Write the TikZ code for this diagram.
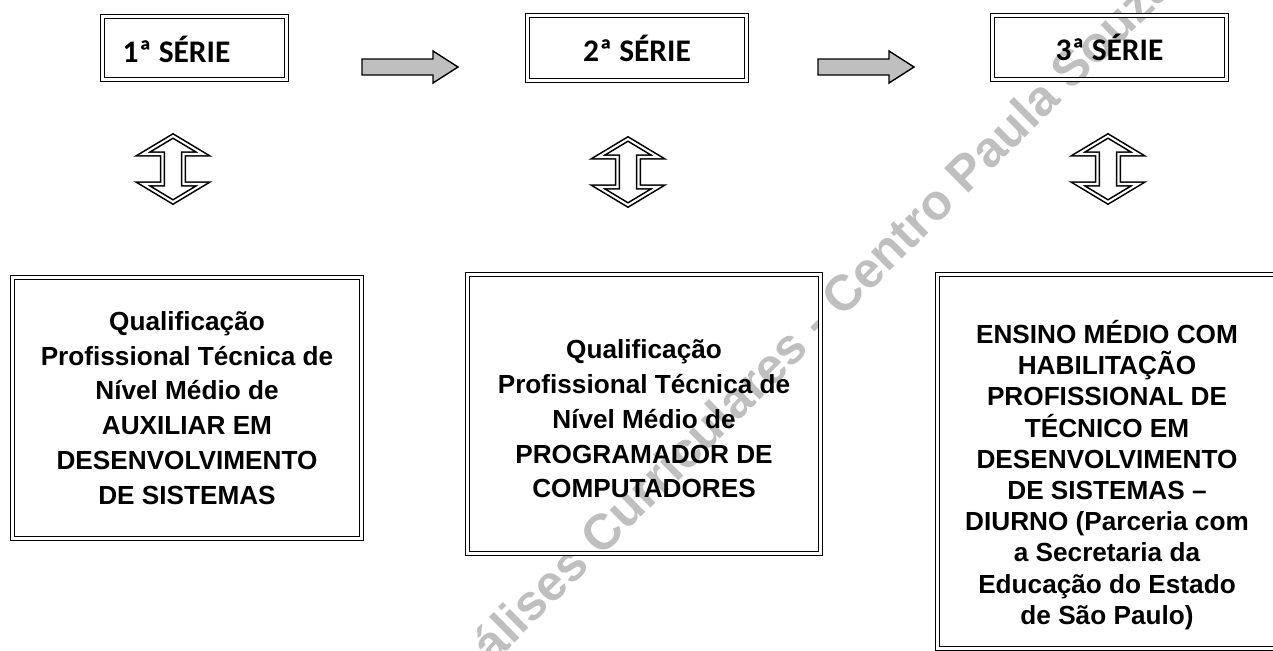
\documentclass[tikz,border=0pt]{standalone}
\usepackage{fontspec}
\setmainfont{Liberation Sans}
\newfontfamily\calibri{Carlito}

\tikzset{
  moldura/.style={draw, double, line width=0.9pt, double distance=1.2pt, inner sep=0pt},
  serie/.style={moldura, font=\calibri\bfseries\fontsize{17.9}{20}\selectfont},
  rotulo/.style={font=\calibri\bfseries\fontsize{17.9}{20}\selectfont},
  texto/.style={align=center, font=\bfseries\fontsize{14.9}{19.8}\selectfont},
  setacinza/.style={draw, fill=black!25, line width=0.8pt, line join=miter},
  setadupla/.style={draw, double, line width=0.9pt, double distance=1.2pt},
  marcadagua/.style={text=black!25, font=\bfseries\fontsize{28.5}{31}\selectfont, rotate=44.7}
}

\begin{document}
\begin{tikzpicture}[x=0.02cm, y=-0.02cm] %uma unidade = um pixel da figura

\useasboundingbox (0,0) rectangle (1273,650);
\clip (0,0) rectangle (1273,650);

%Pontos que posicionam as caixas, as setas e a marca d'agua (x/y em pixels, y para baixo)
\coordinate (S1) at (194.5,48);
\coordinate (R1) at (176.5,49);
\coordinate (S2) at (637,48);
\coordinate (S3) at (1109.5,47.5);
\coordinate (A1) at (362,59);
\coordinate (A2) at (818,59);
\coordinate (D1) at (173,169);
\coordinate (D2) at (628,172);
\coordinate (D3) at (1108,169);
\coordinate (Q1) at (187,408);
\coordinate (Q2) at (644,414);
\coordinate (Q3) at (1107,461.5);
\coordinate (T1) at (187,408);
\coordinate (T2) at (644,419);
\coordinate (T3) at (1107,475);
\coordinate (M) at (798,337);

%Marca d'agua ao fundo
%---------------------------------------------------
\node[marcadagua] (marca) at (M) {Análises Curriculares - Centro Paula Souza};
%---------------------------------------------------

%Caixas das series
%---------------------------------------------------
\node[serie, minimum width=3.68cm, minimum height=1.26cm] (serie1) at (S1) {};
\node[rotulo] (rotulo1) at (R1) {1ª SÉRIE};
\node[serie, minimum width=4.38cm, minimum height=1.3cm] (serie2) at (S2) {2ª SÉRIE};
\node[serie, minimum width=4.68cm, minimum height=1.28cm] (serie3) at (S3) {3ª SÉRIE};
%---------------------------------------------------

%Setas cinzas entre as series
%---------------------------------------------------
\draw[setacinza] (A1) -- ++(71,0) -- ++(0,-8) -- ++(25,16) -- ++(-25,16) -- ++(0,-8) -- ++(-71,0) -- cycle;
\draw[setacinza] (A2) -- ++(71,0) -- ++(0,-8) -- ++(25,16) -- ++(-25,16) -- ++(0,-8) -- ++(-71,0) -- cycle;
%---------------------------------------------------

%Setas duplas verticais
%---------------------------------------------------
\foreach \p in {D1,D2,D3}
  \draw[setadupla] (\p) ++(0,-33) -- ++(30,18) -- ++(-19.5,0) -- ++(0,30) -- ++(19.5,0)
    -- ++(-30,18) -- ++(-30,-18) -- ++(19.5,0) -- ++(0,-30) -- ++(-19.5,0) -- cycle;
%---------------------------------------------------

%Caixas das qualificacoes
%---------------------------------------------------
\node[moldura, minimum width=6.98cm, minimum height=5.22cm] (quadro1) at (Q1) {};
\node[moldura, minimum width=7.06cm, minimum height=5.58cm] (quadro2) at (Q2) {};
\node[moldura, minimum width=6.78cm, minimum height=7.48cm] (quadro3) at (Q3) {};
%---------------------------------------------------

%Textos das qualificacoes
%---------------------------------------------------
\node[texto] (texto1) at (T1)
  {Qualificação\\Profissional Técnica de\\Nível Médio de\\AUXILIAR EM\\DESENVOLVIMENTO\\DE SISTEMAS};
\node[texto] (texto2) at (T2)
  {Qualificação\\Profissional Técnica de\\Nível Médio de\\PROGRAMADOR DE\\COMPUTADORES};
\node[texto, font=\bfseries\fontsize{14.9}{17.75}\selectfont] (texto3) at (T3)
  {ENSINO MÉDIO COM\\HABILITAÇÃO\\PROFISSIONAL DE\\TÉCNICO EM\\DESENVOLVIMENTO\\DE SISTEMAS --\\DIURNO (Parceria com\\a Secretaria da\\Educação do Estado\\de São Paulo)};
%---------------------------------------------------

\end{tikzpicture}
\end{document}
